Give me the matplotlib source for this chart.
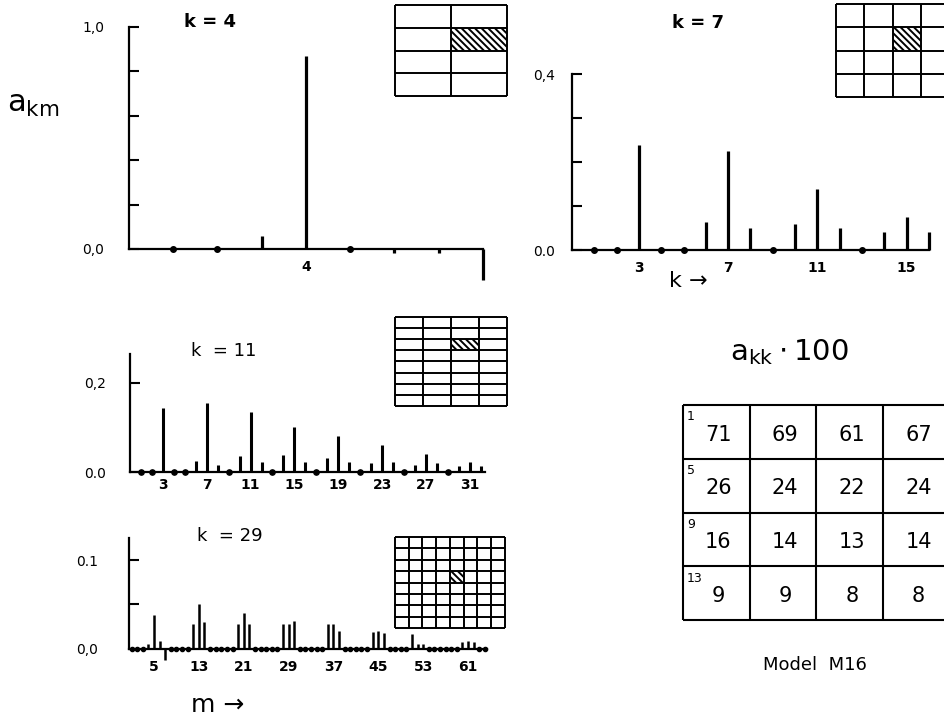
import numpy as np
import matplotlib.pyplot as plt
from matplotlib.patches import Rectangle

plt.rcParams['font.family'] = 'DejaVu Sans'
plt.rcParams['hatch.linewidth'] = 1.4

# a_km values (m = 1..N)
k4_vals = [0, 0, 0.06, 0.87, 0, -0.02, -0.02, -0.14]
k7_vals = [0, 0, 0.239, 0, 0, 0.063, 0.225, 0.051, 0, 0.06, 0.139, 0.049,
           0, 0.041, 0.075, 0.042]
k11_vals = [0, 0, 0.144, 0, 0, 0.025, 0.154, 0.016, 0, 0.037, 0.134, 0.022,
            0, 0.038, 0.101, 0.023, 0, 0.032, 0.082, 0.023, 0, 0.02, 0.061, 0.022,
            0, 0.015, 0.041, 0.02, 0, 0.013, 0.023, 0.013]
k29_vals = [0, 0, 0, 0.006, 0.038, 0.009, -0.012, 0,
            0, 0, 0, 0.028, 0.05, 0.03, 0, 0,
            0, 0, 0, 0.028, 0.04, 0.028, 0, 0,
            0, 0, 0, 0.028, 0.028, 0.031, 0, 0,
            0, 0, 0, 0.028, 0.028, 0.02, 0, 0,
            0, 0, 0, 0.019, 0.02, 0.018, 0, 0,
            0, 0, 0.017, 0.006, 0.006, 0, 0, 0,
            0, 0, 0, 0.008, 0.009, 0.008, 0, 0]

k4_xticks = [4]
k7_xticks = [3, 7, 11, 15]
k11_xticks = [3, 7, 11, 15, 19, 23, 27, 31]
k29_xticks = [5, 13, 21, 29, 37, 45, 53, 61]

# a_kk * 100, Model M16
akk_table = [[71, 69, 61, 67],
             [26, 24, 22, 24],
             [16, 14, 13, 14],
             [9, 9, 8, 8]]
row_start = [1, 5, 9, 13]

W, H = 945, 722
fig = plt.figure(figsize=(W / 100, H / 100), dpi=100)


def px_axes(x0, x1, y0, y1):
    return fig.add_axes([x0 / W, 1 - y1 / H, (x1 - x0) / W, (y1 - y0) / H])


def stem_panel(ox, sx, oy, sy, xlim, ylim, vals, xticks, yticks, ylabels,
               ytop, xend, ypad, lw=2.3, ms=4):
    ax = px_axes(ox + xlim[0] * sx, ox + xlim[1] * sx,
                 oy - ylim[1] * sy, oy - ylim[0] * sy)
    ax.set_xlim(*xlim)
    ax.set_ylim(*ylim)
    vals = np.array(vals)
    m = np.arange(1, len(vals) + 1)
    nz = vals != 0
    ax.vlines(m[nz], 0, vals[nz], color='black', lw=lw)
    ax.plot(m[~nz], vals[~nz], 'o', color='black', ms=ms)
    for s in ['top', 'right']:
        ax.spines[s].set_visible(False)
    ax.spines['bottom'].set_position(('data', 0))
    ax.spines['bottom'].set_bounds(xlim[0], xend)
    ax.spines['left'].set_bounds(0, ytop)
    ax.spines['left'].set_position(('data', xlim[0]))
    for s in ['bottom', 'left']:
        ax.spines[s].set_linewidth(1.6)
    ax.set_xticks(xticks)
    ax.set_xticklabels([str(t) for t in xticks], fontsize=10, fontweight='bold')
    ax.tick_params(axis='x', length=0, pad=4)
    ax.set_yticks(yticks)
    ax.set_yticklabels(ylabels, fontsize=10)
    ax.tick_params(axis='y', direction='in', length=7, width=1.5, pad=ypad)
    ax.patch.set_alpha(0)
    return ax


def grid_inset(x0, x1, y0, y1, ncols, nrows, k):
    ax = px_axes(x0, x1, y0, y1)
    ax.set_xlim(0, ncols)
    ax.set_ylim(nrows, 0)
    ax.axis('off')
    row, col = (k - 1) // ncols, (k - 1) % ncols
    ax.add_patch(Rectangle((col, row), 1, 1, fill=False, hatch='\\\\\\\\\\',
                           lw=0, edgecolor='black'))
    ax.hlines(np.arange(nrows + 1), 0, ncols, color='black', lw=1.4, clip_on=False)
    ax.vlines(np.arange(ncols + 1), 0, nrows, color='black', lw=1.4, clip_on=False)
    return ax


# k = 4
ax1 = stem_panel(129, 44.25, 249, 222, (0, 8.3), (-0.17, 1.03), k4_vals,
                 k4_xticks, [0, 0.2, 0.4, 0.6, 0.8, 1.0],
                 ['0,0', '', '', '', '', '1,0'], 1.0, 8, 18)
ax1.tick_params(axis='x', pad=8)
grid_inset(395, 507, 5, 96, 2, 4, 4)
fig.text(210, H - 22, 'k = 4', transform=None, fontsize=13, fontweight='bold',
         ha='center', va='center')

# k = 7
ax2 = stem_panel(572, 22.3, 250, 440, (0, 16.4), (-0.02, 0.42), k7_vals,
                 k7_xticks, [0, 0.1, 0.2, 0.3, 0.4],
                 ['0.0', '', '', '', '0,4'], 0.4, 16, 12)
ax2.tick_params(axis='x', pad=8)
grid_inset(836, 950, 4, 97, 4, 4, 7)
fig.text(698, H - 23, 'k = 7', transform=None, fontsize=13, fontweight='bold',
         ha='center', va='center')
fig.text(688, H - 281, 'k \u2192', transform=None, fontsize=16,
         ha='center', va='center')

# k = 11
ax3 = stem_panel(130, 10.96, 472, 445, (0, 32.6), (-0.02, 0.28), k11_vals,
                 k11_xticks, [0, 0.2], ['0.0', '0,2'], 0.265, 32.4, 17,
                 lw=2.2, ms=3.8)
grid_inset(395, 507, 317, 406, 4, 8, 11)
fig.text(224, H - 351, 'k  = 11', transform=None, fontsize=13,
         ha='center', va='center')

# k = 29
ax4 = stem_panel(126, 5.607, 649, 890, (0.5, 64.6), (-0.02, 0.13), k29_vals,
                 k29_xticks, [0, 0.05, 0.1], ['0,0', '', '0.1'], 0.125, 64.3, 22,
                 lw=1.8, ms=3)
ax4.tick_params(axis='x', pad=8)
grid_inset(395, 505, 537, 628, 8, 8, 29)
fig.text(230, H - 536, 'k  = 29', transform=None, fontsize=13,
         ha='center', va='center')
fig.text(218, H - 705, 'm \u2192', transform=None, fontsize=18,
         ha='center', va='center')

# y label
fig.text(33, H - 105, r'$\mathregular{a_{km}}$', transform=None, fontsize=22,
         ha='center', va='center')

# table of a_kk * 100
fig.text(789, H - 352, r'$\mathregular{a_{kk}\cdot 100}$', transform=None,
         fontsize=21, ha='center', va='center')
axt = px_axes(683, 950, 405, 620)
axt.set_xlim(0, 4)
axt.set_ylim(4, 0)
axt.axis('off')
axt.hlines(np.arange(5), 0, 4, color='black', lw=1.5, clip_on=False)
axt.vlines(np.arange(5), 0, 4, color='black', lw=1.5, clip_on=False)
for i, row in enumerate(akk_table):
    for j, v in enumerate(row):
        axt.text(j + 0.53, i + 0.55, str(v), fontsize=15, ha='center', va='center')
    axt.text(0.06, i + 0.1, str(row_start[i]), fontsize=9, ha='left', va='top')
fig.text(815, H - 665, 'Model  M16', transform=None, fontsize=13,
         ha='center', va='center')

fig.savefig('out.png', dpi=100)
